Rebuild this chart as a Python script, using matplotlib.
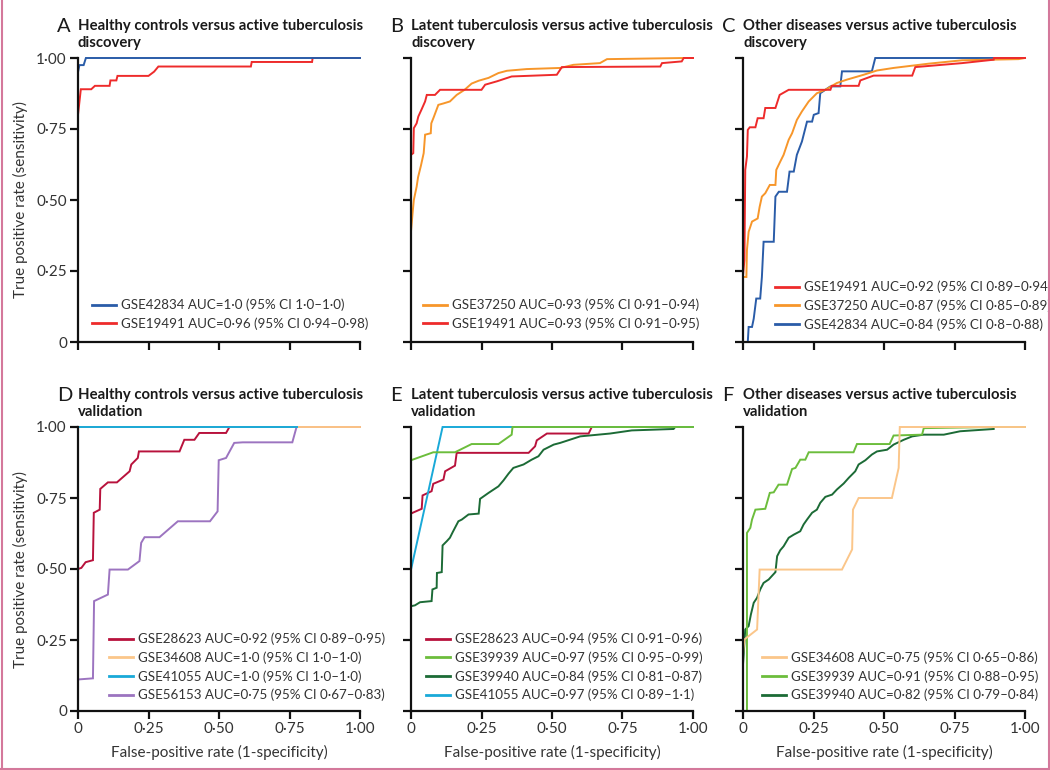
import matplotlib
matplotlib.use("Agg")
import matplotlib.pyplot as plt
from matplotlib.lines import Line2D

plt.rcParams['font.family'] = ['Lato', 'DejaVu Sans']

# ---------------- data ----------------
titles = ["Healthy controls versus active tuberculosis\ndiscovery",
          "Latent tuberculosis versus active tuberculosis\ndiscovery",
          "Other diseases versus active tuberculosis\ndiscovery",
          "Healthy controls versus active tuberculosis\nvalidation",
          "Latent tuberculosis versus active tuberculosis\nvalidation",
          "Other diseases versus active tuberculosis\nvalidation"]
panel_letters = ["A", "B", "C", "D", "E", "F"]
tick_values = [0, 0.25, 0.5, 0.75, 1.0]
tick_labels = ["0", "0·25", "0·50", "0·75", "1·00"]
xlabel = "False-positive rate (1-specificity)"
ylabel = "True positive rate (sensitivity)"

# Panel A
a_gse42834_fpr = [0, 0, 0.005, 0.02, 0.028, 1.0]
a_gse42834_tpr = [0, 0.95, 0.975, 0.975, 1.0, 1.0]
a_gse19491_fpr = [0, 0, 0.01, 0.047, 0.06, 0.112, 0.115, 0.136, 0.14, 0.25, 0.27, 0.285, 0.613, 0.616, 0.83, 0.832, 1.0]
a_gse19491_tpr = [0, 0.80, 0.89, 0.89, 0.902, 0.902, 0.921, 0.921, 0.937, 0.937, 0.952, 0.97, 0.97, 0.986, 0.986, 1.0, 1.0]

# Panel B
b_gse37250_fpr = [0, 0, 0.005, 0.01, 0.02, 0.025, 0.035, 0.045, 0.05, 0.07, 0.072, 0.08, 0.097, 0.115, 0.138, 0.162,
                  0.19, 0.215, 0.24, 0.275, 0.31, 0.34, 0.41, 0.53, 0.576, 0.67, 0.695, 0.97, 1.0]
b_gse37250_tpr = [0, 0.39, 0.447, 0.5, 0.547, 0.58, 0.62, 0.665, 0.73, 0.735, 0.77, 0.79, 0.835, 0.84, 0.847, 0.87,
                  0.888, 0.91, 0.92, 0.93, 0.947, 0.955, 0.961, 0.965, 0.976, 0.982, 0.996, 1.0, 1.0]
b_gse19491_fpr = [0, 0, 0.008, 0.01, 0.02, 0.026, 0.038, 0.05, 0.056, 0.085, 0.103, 0.25, 0.263, 0.305, 0.357, 0.517,
                  0.535, 0.884, 0.89, 0.96, 0.967, 1.0]
b_gse19491_tpr = [0, 0.659, 0.665, 0.753, 0.77, 0.794, 0.82, 0.847, 0.87, 0.87, 0.888, 0.888, 0.906, 0.918, 0.935, 0.941,
                  0.968, 0.97, 0.982, 0.988, 1.0, 1.0]

# Panel C
c_gse19491_fpr = [0, 0, 0.005, 0.008, 0.014, 0.017, 0.024, 0.044, 0.052, 0.073, 0.079, 0.115, 0.13, 0.162, 0.31, 0.315,
                  0.41, 0.416, 0.463, 0.6, 0.611, 0.777, 0.889, 0.89, 1.0]
c_gse19491_tpr = [0, 0.235, 0.288, 0.606, 0.653, 0.747, 0.756, 0.756, 0.788, 0.788, 0.824, 0.824, 0.87, 0.888, 0.888, 0.902,
                  0.902, 0.921, 0.938, 0.938, 0.968, 0.982, 0.994, 1.0, 1.0]
c_gse37250_fpr = [0, 0, 0.012, 0.014, 0.02, 0.032, 0.052, 0.059, 0.067, 0.079, 0.095, 0.115, 0.118, 0.132, 0.144, 0.162,
                  0.174, 0.191, 0.209, 0.233, 0.262, 0.292, 0.333, 0.369, 0.428, 0.475, 0.534, 0.658, 0.777, 0.977, 1.0]
c_gse37250_tpr = [0, 0.229, 0.229, 0.324, 0.388, 0.424, 0.435, 0.476, 0.512, 0.524, 0.553, 0.553, 0.606, 0.635, 0.659, 0.712,
                  0.735, 0.782, 0.812, 0.847, 0.876, 0.888, 0.912, 0.924, 0.941, 0.956, 0.965, 0.98, 0.992, 0.996, 1.0]
c_gse42834_fpr = [0, 0.017, 0.02, 0.032, 0.038, 0.047, 0.061, 0.067, 0.073, 0.109, 0.115, 0.127, 0.156, 0.165, 0.18, 0.191,
                  0.209, 0.227, 0.245, 0.251, 0.268, 0.274, 0.292, 0.31, 0.345, 0.351, 0.457, 0.469, 1.0]
c_gse42834_tpr = [0, 0, 0.053, 0.053, 0.082, 0.153, 0.153, 0.229, 0.353, 0.353, 0.512, 0.529, 0.529, 0.6, 0.6, 0.659,
                  0.706, 0.776, 0.776, 0.8, 0.806, 0.876, 0.888, 0.9, 0.9, 0.953, 0.953, 1.0, 1.0]

# Panel D
d_gse28623_fpr = [0, 0, 0.012, 0.027, 0.053, 0.056, 0.077, 0.079, 0.106, 0.138, 0.183, 0.189, 0.212, 0.216, 0.36, 0.377,
                  0.413, 0.43, 0.525, 0.537, 1.0]
d_gse28623_tpr = [0, 0.5, 0.504, 0.524, 0.531, 0.698, 0.709, 0.782, 0.805, 0.805, 0.844, 0.868, 0.891, 0.914, 0.914, 0.955,
                  0.955, 0.979, 0.979, 1.0, 1.0]
d_gse34608_fpr = [0, 0, 1.0]
d_gse34608_tpr = [0, 1.0, 1.0]
d_gse41055_fpr = [0, 0, 0.775]
d_gse41055_tpr = [0, 1.0, 1.0]
d_gse56153_fpr = [0, 0, 0.053, 0.057, 0.106, 0.112, 0.177, 0.218, 0.224, 0.236, 0.289, 0.354, 0.468, 0.495, 0.499, 0.525,
                  0.554, 0.584, 0.76, 0.775, 1.0]
d_gse56153_tpr = [0, 0.111, 0.115, 0.387, 0.41, 0.498, 0.498, 0.528, 0.592, 0.612, 0.612, 0.668, 0.668, 0.703, 0.883, 0.891,
                  0.944, 0.946, 0.946, 1.0, 1.0]

# Panel E
e_gse28623_fpr = [0, 0, 0.006, 0.038, 0.041, 0.073, 0.079, 0.115, 0.121, 0.156, 0.162, 0.417, 0.44, 0.446, 0.482, 0.63,
                  0.641, 1.0]
e_gse28623_tpr = [0, 0.695, 0.698, 0.712, 0.759, 0.774, 0.8, 0.815, 0.844, 0.864, 0.909, 0.909, 0.932, 0.953, 0.977, 0.977,
                  1.0, 1.0]
e_gse39939_fpr = [0, 0, 0.079, 0.156, 0.215, 0.31, 0.357, 0.36, 1.0]
e_gse39939_tpr = [0, 0.883, 0.911, 0.911, 0.94, 0.94, 0.973, 1.0, 1.0]
e_gse39940_fpr = [0, 0, 0.014, 0.032, 0.073, 0.076, 0.091, 0.092, 0.109, 0.112, 0.127, 0.138, 0.148, 0.168, 0.18, 0.204,
                  0.24, 0.245, 0.275, 0.31, 0.328, 0.346, 0.363, 0.399, 0.428, 0.452, 0.47, 0.506, 0.529, 0.6, 0.706,
                  0.783, 0.931, 0.937, 1.0]
e_gse39940_tpr = [0, 0.369, 0.372, 0.383, 0.387, 0.428, 0.434, 0.486, 0.489, 0.583, 0.598, 0.61, 0.63, 0.668, 0.674, 0.692,
                  0.695, 0.747, 0.768, 0.791, 0.812, 0.836, 0.856, 0.868, 0.885, 0.897, 0.92, 0.938, 0.944, 0.967, 0.977,
                  0.988, 0.993, 1.0, 1.0]
e_gse41055_fpr = [0, 0, 0.112, 1.0]
e_gse41055_tpr = [0, 0.498, 1.0, 1.0]

# Panel F
f_gse34608_fpr = [0, 0, 0.005, 0.05, 0.059, 0.351, 0.387, 0.39, 0.41, 0.528, 0.552, 0.556, 1.0]
f_gse34608_tpr = [0, 0.2, 0.252, 0.287, 0.498, 0.498, 0.569, 0.709, 0.75, 0.75, 0.856, 1.0, 1.0]
f_gse39939_fpr = [0, 0.014, 0.014, 0.026, 0.032, 0.044, 0.079, 0.095, 0.109, 0.126, 0.156, 0.174, 0.186, 0.203, 0.221,
                  0.233, 0.392, 0.404, 0.52, 0.534, 0.635, 0.641, 0.889, 1.0]
f_gse39939_tpr = [0, 0, 0.627, 0.645, 0.674, 0.709, 0.712, 0.768, 0.77, 0.797, 0.797, 0.852, 0.856, 0.885, 0.885,
                  0.911, 0.911, 0.94, 0.94, 0.97, 0.973, 0.996, 1.0, 1.0]
f_gse39940_fpr = [0, 0, 0.008, 0.02, 0.028, 0.038, 0.05, 0.061, 0.073, 0.091, 0.115, 0.121, 0.132, 0.144, 0.162, 0.18,
                  0.203, 0.215, 0.227, 0.245, 0.262, 0.274, 0.292, 0.316, 0.333, 0.357, 0.375, 0.398, 0.41, 0.434, 0.457,
                  0.475, 0.511, 0.534, 0.57, 0.6, 0.641, 0.712, 0.77, 0.889, 0.889, 1.0]
f_gse39940_tpr = [0, 0.164, 0.287, 0.299, 0.34, 0.381, 0.399, 0.428, 0.451, 0.463, 0.489, 0.545, 0.566, 0.58, 0.61, 0.621,
                  0.633, 0.657, 0.674, 0.698, 0.709, 0.733, 0.754, 0.762, 0.78, 0.801, 0.821, 0.844, 0.868, 0.883, 0.903,
                  0.914, 0.92, 0.938, 0.955, 0.967, 0.973, 0.973, 0.985, 0.993, 1.0, 1.0]

# ---------------- styles ----------------
C_BLUE = "#2a5ca8"
C_RED = "#ee2b2b"
C_ORANGE = "#f7962a"
C_DRED = "#b8123c"
C_LORANGE = "#fbc68a"
C_CYAN = "#19a9d8"
C_PURPLE = "#9c74c0"
C_LGREEN = "#6cbd3c"
C_DGREEN = "#1c6b36"

panels = [
    [(a_gse42834_fpr, a_gse42834_tpr, C_BLUE, "GSE42834 AUC=1·0 (95% CI 1·0–1·0)"),
     (a_gse19491_fpr, a_gse19491_tpr, C_RED, "GSE19491 AUC=0·96 (95% CI 0·94–0·98)")],
    [(b_gse37250_fpr, b_gse37250_tpr, C_ORANGE, "GSE37250 AUC=0·93 (95% CI 0·91–0·94)"),
     (b_gse19491_fpr, b_gse19491_tpr, C_RED, "GSE19491 AUC=0·93 (95% CI 0·91–0·95)")],
    [(c_gse19491_fpr, c_gse19491_tpr, C_RED, "GSE19491 AUC=0·92 (95% CI 0·89–0·94)"),
     (c_gse37250_fpr, c_gse37250_tpr, C_ORANGE, "GSE37250 AUC=0·87 (95% CI 0·85–0·89)"),
     (c_gse42834_fpr, c_gse42834_tpr, C_BLUE, "GSE42834 AUC=0·84 (95% CI 0·8–0·88)")],
    [(d_gse28623_fpr, d_gse28623_tpr, C_DRED, "GSE28623 AUC=0·92 (95% CI 0·89–0·95)"),
     (d_gse34608_fpr, d_gse34608_tpr, C_LORANGE, "GSE34608 AUC=1·0 (95% CI 1·0–1·0)"),
     (d_gse41055_fpr, d_gse41055_tpr, C_CYAN, "GSE41055 AUC=1·0 (95% CI 1·0–1·0)"),
     (d_gse56153_fpr, d_gse56153_tpr, C_PURPLE, "GSE56153 AUC=0·75 (95% CI 0·67–0·83)")],
    [(e_gse28623_fpr, e_gse28623_tpr, C_DRED, "GSE28623 AUC=0·94 (95% CI 0·91–0·96)"),
     (e_gse39939_fpr, e_gse39939_tpr, C_LGREEN, "GSE39939 AUC=0·97 (95% CI 0·95–0·99)"),
     (e_gse39940_fpr, e_gse39940_tpr, C_DGREEN, "GSE39940 AUC=0·84 (95% CI 0·81–0·87)"),
     (e_gse41055_fpr, e_gse41055_tpr, C_CYAN, "GSE41055 AUC=0·97 (95% CI 0·89–1·1)")],
    [(f_gse34608_fpr, f_gse34608_tpr, C_LORANGE, "GSE34608 AUC=0·75 (95% CI 0·65–0·86)"),
     (f_gse39939_fpr, f_gse39939_tpr, C_LGREEN, "GSE39939 AUC=0·91 (95% CI 0·88–0·95)"),
     (f_gse39940_fpr, f_gse39940_tpr, C_DGREEN, "GSE39940 AUC=0·82 (95% CI 0·79–0·84)")],
]
# draw order (index into series list) per panel, last drawn on top
draw_orders = [[1, 0], [0, 1], [2, 1, 0], [3, 0, 1, 2], [2, 0, 3, 1], [2, 1, 0]]
legend_anchor = [(0.048, 0.042), (0.041, 0.042), (0.113, 0.04), (0.11, 0.034), (0.053, 0.034), (0.066, 0.034)]

W, H = 1050, 770
fig = plt.figure(figsize=(W / 100, H / 100), dpi=100)
fig.patch.set_facecolor("white")

lefts = [78, 411, 743]
tops = [58, 427]
aw, ah = 282, 284

for i in range(6):
    r, c = divmod(i, 3)
    ax = fig.add_axes([lefts[c] / W, 1 - (tops[r] + ah) / H, aw / W, ah / H])
    ax.set_facecolor("none")
    series = panels[i]
    for k in draw_orders[i]:
        fpr, tpr, col, lab = series[k]
        ax.plot(fpr, tpr, color=col, lw=1.4, clip_on=False, solid_joinstyle="miter")
    handles = [Line2D([], [], color=s[2], lw=2.0) for s in series]
    labels = [s[3] for s in series]
    leg = ax.legend(handles, labels, loc="lower left", bbox_to_anchor=legend_anchor[i],
                    frameon=False, fontsize=9.6, handlelength=1.8, handletextpad=0.4,
                    labelspacing=0.46, borderpad=0, borderaxespad=0)
    for t in leg.get_texts():
        t.set_color("#333333")
    ax.set_xlim(0, 1)
    ax.set_ylim(0, 1)
    for s in ["top", "right"]:
        ax.spines[s].set_visible(False)
    for s in ["left", "bottom"]:
        ax.spines[s].set_linewidth(1.6)
        ax.spines[s].set_color("#111111")
    ax.set_xticks(tick_values)
    ax.set_yticks(tick_values)
    ax.tick_params(direction="out", length=6, width=1.6, color="#111111",
                   labelsize=11, labelcolor="#333333", pad=2)
    if c == 0:
        ax.set_yticklabels(tick_labels)
        ax.set_ylabel(ylabel, fontsize=11, color="#333333", labelpad=6)
    else:
        ax.set_yticklabels([])
    if r == 1:
        ax.set_xticklabels(tick_labels)
        ax.set_xlabel(xlabel, fontsize=11, color="#333333", labelpad=6)
    else:
        ax.set_xticklabels([])
    ax.text(0.0, 1.137, titles[i], transform=ax.transAxes, ha="left", va="top",
            fontsize=10.7, fontweight="bold", color="#1a1a1a", linespacing=1.25)
    ax.text(-0.075, 1.142, panel_letters[i], transform=ax.transAxes, ha="left", va="top",
            fontsize=14.5, color="#1a1a1a")

# frame
border = "#d4789b"
fig.add_artist(Line2D([1.5 / W, 1.5 / W], [0, 1], color=border, lw=1.5))
fig.add_artist(Line2D([1 - 1.5 / W, 1 - 1.5 / W], [0, 1], color=border, lw=1.5))
fig.add_artist(Line2D([0, 1], [1.5 / H, 1.5 / H], color=border, lw=1.5))

fig.savefig("out.png", dpi=100)
